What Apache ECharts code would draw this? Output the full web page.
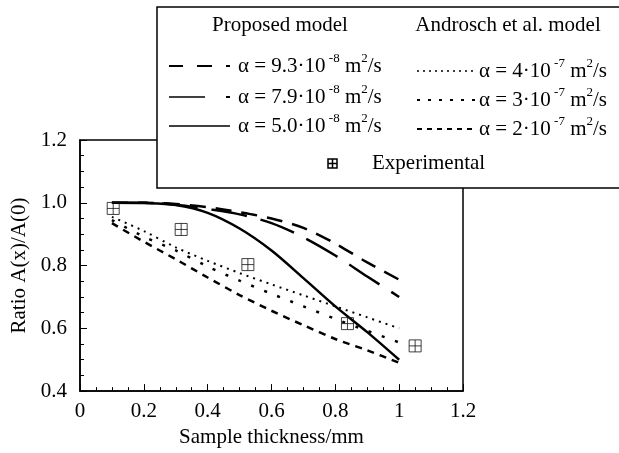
<!DOCTYPE html>
<html>
<head>
<meta charset="utf-8">
<style>
  html, body { margin: 0; padding: 0; background: #fff; }
  #chart { width: 619px; height: 453px; }
</style>
<script src="https://cdn.jsdelivr.net/npm/echarts@6/dist/echarts.min.js"></script>
</head>
<body>
<div id="chart"></div>
<script>
// thickness values (mm) used by every model curve
const modelX = [0.1, 0.2, 0.3, 0.4, 0.5, 0.6, 0.7, 0.8, 0.9, 1.0];

// proposed model
const prop93 = [1.0, 1.0, 0.996, 0.986, 0.97, 0.95, 0.92, 0.87, 0.81, 0.755];
const prop79 = [1.0, 1.0, 0.994, 0.98, 0.963, 0.935, 0.89, 0.832, 0.765, 0.70];
const prop50 = [1.0, 0.999, 0.993, 0.968, 0.918, 0.848, 0.76, 0.67, 0.588, 0.50];

// Androsch et al. model
const andr4 = [0.955, 0.91, 0.858, 0.815, 0.776, 0.74, 0.705, 0.67, 0.635, 0.60];
const andr3 = [0.945, 0.892, 0.848, 0.797, 0.752, 0.71, 0.67, 0.63, 0.592, 0.555];
const andr2 = [0.935, 0.876, 0.82, 0.762, 0.706, 0.656, 0.61, 0.566, 0.53, 0.49];

// experimental points
const expX = [0.104, 0.317, 0.526, 0.838, 1.05];
const expY = [0.982, 0.915, 0.803, 0.615, 0.544];

const FONT = 'Liberation Serif';
const FS = 21;
const pairs = (xs, ys) => xs.map((x, i) => [x, ys[i]]);

const chart = echarts.init(document.getElementById('chart'));

function lineSeries(name, ys, dash, width) {
  return {
    name: name,
    type: 'line',
    data: pairs(modelX, ys),
    showSymbol: false,
    smooth: 0.3,
    lineStyle: { color: '#000', width: width, type: dash },
    z: 3
  };
}

// legend box drawn by hand (two columns with headers)
const rich = {
  n: { fontFamily: FONT, fontSize: FS, lineHeight: 28, color: '#000' },
  s: { fontFamily: FONT, fontSize: 13, lineHeight: 13, verticalAlign: 'top', color: '#000' }
};
function label(x, y, a, exp) {
  return {
    type: 'text', x: x, y: y, z: 101,
    style: {
      text: '{n|α = ' + a + '·10}{s| ' + exp + '}{n| m}{s|2}{n|/s}',
      rich: rich, textAlign: 'left', textVerticalAlign: 'middle'
    }
  };
}
function seg(x1, x2, y, dash, w) {
  return {
    type: 'line', z: 101,
    shape: { x1: x1, y1: y, x2: x2, y2: y },
    style: { stroke: '#000', lineWidth: w || 2, lineDash: dash || null }
  };
}
function txt(x, y, s, align) {
  return {
    type: 'text', x: x, y: y, z: 101,
    style: { text: s, fontFamily: FONT, fontSize: FS, fill: '#000',
             textAlign: align, textVerticalAlign: 'middle' }
  };
}

const graphics = [
  { type: 'rect', z: 100, shape: { x: 157, y: 7, width: 480, height: 181 },
    style: { fill: '#fff', stroke: '#000', lineWidth: 1.5 } },
  txt(280, 25, 'Proposed model', 'center'),
  txt(508, 25, 'Androsch et al. model', 'center'),
  // proposed model samples
  seg(169, 183, 66), seg(197, 212, 66), seg(226, 230, 66),
  seg(169, 205, 97, null, 1.5), seg(226, 230, 97),
  seg(169, 230, 126, null, 1.5),
  label(238, 66, '9.3', '-8'),
  label(238, 97, '7.9', '-8'),
  label(238, 126, '5.0', '-8'),
  // Androsch samples
  seg(417, 477, 71, [2, 4], 1.5),
  seg(417, 477, 100, [3, 8], 2),
  seg(417, 477, 129, [5, 5], 2),
  label(479, 71, '4', '-7'),
  label(479, 100, '3', '-7'),
  label(479, 129, '2', '-7'),
  // experimental
  { type: 'group', x: 328, y: 159, z: 101, children: [
    { type: 'rect', z: 101, shape: { x: 0, y: 0, width: 9, height: 9 },
      style: { fill: '#fff', stroke: '#000', lineWidth: 1.5 } },
    { type: 'line', z: 101, shape: { x1: 4.5, y1: 0, x2: 4.5, y2: 9 },
      style: { stroke: '#000', lineWidth: 1.5 } },
    { type: 'line', z: 101, shape: { x1: 0, y1: 4.5, x2: 9, y2: 4.5 },
      style: { stroke: '#000', lineWidth: 1.5 } }
  ] },
  txt(372, 163, 'Experimental', 'left')
];

const axisCommon = {
  axisLine: { show: true, lineStyle: { color: '#000', width: 1.5 } },
  axisTick: { show: true, inside: true, length: 7, lineStyle: { color: '#000', width: 1 } },
  minorTick: { show: true, splitNumber: 4, length: 4, lineStyle: { color: '#000', width: 1 } },
  splitLine: { show: false },
  nameTextStyle: { fontFamily: FONT, fontSize: FS, color: '#000' }
};

const option = {
  animation: false,
  backgroundColor: '#fff',
  textStyle: { fontFamily: FONT },
  grid: {
    left: 80, right: 156, top: 140, bottom: 57,
    show: true, borderColor: '#000', borderWidth: 1.5, backgroundColor: 'transparent'
  },
  xAxis: Object.assign({}, axisCommon, {
    type: 'value', min: 0, max: 1.2, interval: 0.2,
    name: 'Sample thickness/mm', nameLocation: 'middle', nameGap: 26,
    axisLabel: { fontFamily: FONT, fontSize: FS, color: '#000', margin: 10 }
  }),
  yAxis: Object.assign({}, axisCommon, {
    type: 'value', min: 0.4, max: 1.2, interval: 0.2,
    name: 'Ratio A(x)/A(0)', nameLocation: 'middle', nameGap: 46,
    axisLabel: { fontFamily: FONT, fontSize: FS, color: '#000', margin: 13,
                 formatter: v => v.toFixed(1) }
  }),
  graphic: graphics,
  series: [
    lineSeries('α = 9.3·10-8', prop93, [16, 10], 2.5),
    lineSeries('α = 7.9·10-8', prop79, [36, 14], 2.5),
    lineSeries('α = 5.0·10-8', prop50, 'solid', 2.5),
    lineSeries('α = 4·10-7', andr4, [2, 5], 2),
    lineSeries('α = 3·10-7', andr3, [3, 11], 2.5),
    lineSeries('α = 2·10-7', andr2, [7, 6], 2.5),
    {
      name: 'Experimental',
      type: 'scatter',
      data: pairs(expX, expY),
      symbol: 'path://M0,0H10V10H0Z M5,0V10 M0,5H10',
      symbolSize: 12,
      itemStyle: { color: 'rgba(0,0,0,0)', borderColor: '#111', borderWidth: 1 },
      z: 4
    }
  ]
};

chart.setOption(option);
</script>
</body>
</html>
